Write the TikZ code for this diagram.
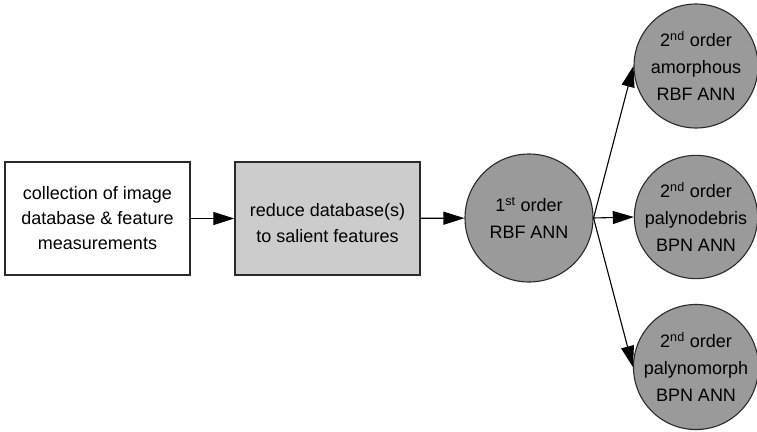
\documentclass[tikz,border=0pt]{standalone}
\usepackage{fontspec}
\setmainfont{Liberation Sans}
\usetikzlibrary{arrows.meta}
\definecolor{boxgray}{HTML}{CCCCCC}
\definecolor{netgray}{HTML}{9A9A9A}
\definecolor{edgegray}{HTML}{2A2A2A}
\begin{document}
\begin{tikzpicture}[x = 1pt,y = 1pt,
  stage/.style = {draw = edgegray,line width = 1.4pt,rectangle,minimum width = 185pt,minimum height = 113pt,align = center,font = \fontsize{18}{25}\selectfont},
  net/.style = {draw = edgegray,line width = 1.1pt,circle,fill = netgray,inner sep = 0pt,align = center,font = \fontsize{18}{27}\selectfont},
  feed/.style = {-{Triangle[length = 21pt,width = 13pt]},line width = 1.1pt,black}]
\useasboundingbox (0,0) rectangle (757,-431);
\node[stage] (collect) at (97.5,-218.5) {collection of image\\database \& feature\\measurements};
\node[stage,fill = boxgray,font = \fontsize{18}{26}\selectfont] (reduce) at (327.5,-218.5) {\rule{0pt}{22pt}reduce database(s)\\to salient features};
\node[net,minimum size = 128pt] (first) at (529,-218) {1\textsuperscript{st} order\\RBF ANN};
\node[net,minimum size = 124pt] (amorph) at (696,-66) {2\textsuperscript{nd} order\\amorphous\\RBF ANN};
\node[net,minimum size = 120pt] (debris) at (696,-217) {2\textsuperscript{nd} order\\palynodebris\\BPN ANN};
\node[net,minimum size = 121pt] (morph) at (696,-367) {2\textsuperscript{nd} order\\palynomorph\\BPN ANN};
\draw[feed] (collect) -- (reduce);
\draw[feed] (reduce) -- (first);
\draw[feed] (first.east) -- (amorph.west);
\draw[feed] (first.east) -- (debris.west);
\draw[feed] (first.east) -- (morph.west);
\end{tikzpicture}
\end{document}
